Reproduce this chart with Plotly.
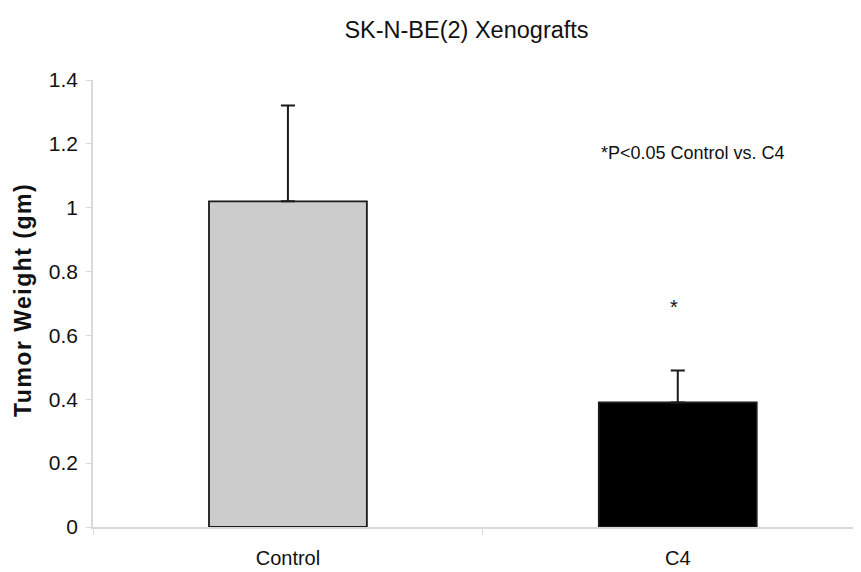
import plotly.graph_objects as go

categories = ["Control", "C4"]
means = [1.02, 0.39]
errors = [0.30, 0.10]
colors = ["#cccccc", "#000000"]
y_ticks = [0, 0.2, 0.4, 0.6, 0.8, 1, 1.2, 1.4]
y_tick_labels = ["0", "0.2", "0.4", "0.6", "0.8", "1", "1.2", "1.4"]

FONT = "Arial, Liberation Sans, sans-serif"

# page body has an 8px margin, so the figure is drawn 8px smaller and offset
W, H = 853, 564

fig = go.Figure()
fig.add_trace(go.Bar(
    x=categories, y=means,
    width=0.405,
    marker=dict(color=colors, line=dict(color="#1a1a1a", width=1.8)),
    error_y=dict(type="data", array=errors, symmetric=False, arrayminus=[0, 0],
                 color="#1a1a1a", thickness=2, width=7, visible=True),
    showlegend=False,
))

fig.update_layout(
    width=W, height=H,
    margin=dict(l=85, r=0, t=72, b=45),
    paper_bgcolor="white", plot_bgcolor="white",
    font=dict(family=FONT, color="#111111"),
    title=dict(text="SK-N-BE(2) Xenografts", x=466.5 / 861 * 861 / W - 8 / W, xanchor="center",
               y=1 - 22 / H, yanchor="middle", yref="container",
               font=dict(size=23.5, family=FONT, color="#111111")),
    xaxis=dict(range=[-0.5, 1.47], showline=True, linecolor="#d9d9d9", linewidth=1.5,
               ticks="outside", tickson="boundaries", ticklen=6, tickcolor="#d9d9d9",
               ticklabelstandoff=12,
               tickfont=dict(size=20, family=FONT, color="#111111"),
               showgrid=False, zeroline=False, fixedrange=True),
    yaxis=dict(range=[0, 1.4], tickvals=y_ticks, ticktext=y_tick_labels,
               showline=True, linecolor="#d9d9d9", linewidth=1.5,
               ticks="outside", ticklen=5, tickcolor="#d9d9d9",
               ticklabelstandoff=4,
               tickfont=dict(size=21, family=FONT, color="#111111"),
               showgrid=False, zeroline=False),
    annotations=[
        dict(text="<b><span style=\"letter-spacing:1.5px\">Tumor Weight (gm)</span></b>",
             xref="paper", yref="paper",
             x=(23 - 93) / 768, y=(527 - 300) / 447, textangle=-90,
             showarrow=False, xanchor="center", yanchor="middle",
             font=dict(size=23, family=FONT, color="#111111")),
        dict(text="*P<0.05 Control vs. C4", xref="x", yref="y",
             x=1.038, y=1.171, showarrow=False, xanchor="center", yanchor="middle",
             font=dict(size=18, family=FONT, color="#111111")),
        dict(text="*", xref="x", yref="y",
             x=0.99, y=0.69, showarrow=False, xanchor="center", yanchor="middle",
             font=dict(size=20, family=FONT, color="#111111")),
    ],
)

fig.write_html("out.html")
